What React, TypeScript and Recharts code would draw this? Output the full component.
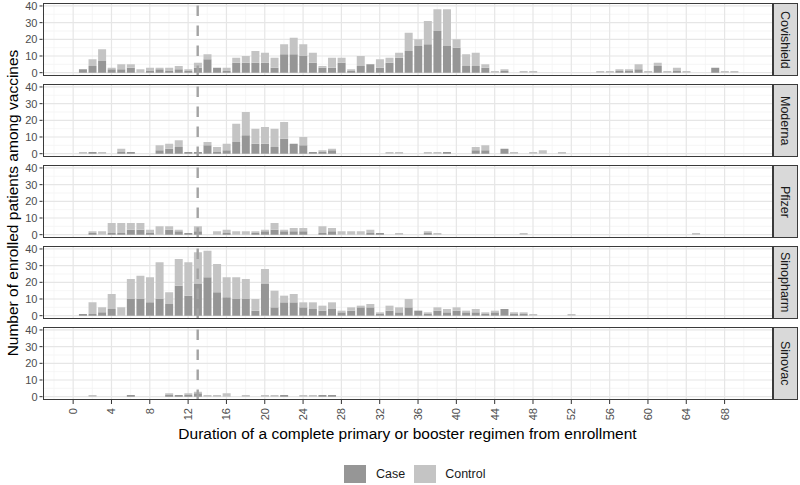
import React from "react"
import {
  BarChart,
  Bar,
  XAxis,
  YAxis,
  CartesianGrid,
  ReferenceLine,
} from "recharts"

// weekly counts, index = weeks since enrollment (0..69)
const covishieldCase = [
  0, 2, 4, 7, 2, 2, 3, 0, 1, 2,
  1, 2, 1, 3, 8, 3, 1, 6, 6, 6,
  6, 3, 11, 11, 10, 6, 3, 3, 6, 1,
  4, 5, 3, 6, 9, 13, 16, 17, 25, 16,
  15, 4, 4, 3, 0, 1, 0, 0, 0, 0,
  0, 0, 0, 0, 0, 0, 0, 1, 1, 2,
  0, 4, 0, 1, 0, 0, 0, 3, 0, 0,
]
const covishieldControl = [
  0, 0, 4, 7, 1, 3, 2, 2, 2, 1,
  2, 2, 1, 3, 3, 0, 2, 3, 4, 7,
  6, 6, 6, 10, 7, 6, 1, 6, 3, 1,
  6, 0, 5, 3, 3, 11, 4, 14, 13, 22,
  5, 7, 8, 2, 1, 1, 0, 1, 1, 0,
  0, 0, 0, 0, 0, 1, 1, 1, 1, 3,
  1, 2, 1, 2, 1, 0, 0, 0, 1, 1,
]

const modernaCase = [
  0, 0, 1, 0, 0, 1, 1, 0, 0, 2,
  3, 4, 1, 1, 5, 1, 2, 7, 11, 6,
  6, 4, 9, 6, 5, 1, 1, 2, 0, 0,
  0, 0, 0, 0, 0, 0, 0, 0, 0, 1,
  0, 0, 2, 2, 0, 3, 0, 0, 0, 0,
  0, 0, 0, 0, 0, 0, 0, 0, 0, 0,
  0, 0, 0, 0, 0, 0, 0, 0, 0, 0,
]
const modernaControl = [
  0, 1, 0, 1, 0, 2, 0, 0, 0, 3,
  3, 4, 0, 0, 2, 3, 4, 11, 14, 9,
  10, 11, 10, 0, 5, 0, 1, 1, 0, 0,
  0, 0, 0, 1, 1, 0, 0, 1, 1, 0,
  0, 0, 2, 3, 0, 0, 1, 0, 1, 2,
  0, 1, 0, 0, 0, 0, 0, 0, 0, 0,
  0, 0, 0, 0, 0, 0, 0, 0, 0, 0,
]

const pfizerCase = [
  0, 0, 1, 0, 1, 1, 3, 3, 1, 0,
  3, 2, 1, 2, 0, 0, 1, 0, 0, 1,
  2, 3, 2, 2, 2, 0, 1, 2, 0, 0,
  0, 1, 1, 0, 0, 0, 0, 1, 0, 0,
  0, 0, 0, 0, 0, 0, 0, 0, 0, 0,
  0, 0, 0, 0, 0, 0, 0, 0, 0, 0,
  0, 0, 0, 0, 0, 0, 0, 0, 0, 0,
]
const pfizerControl = [
  0, 0, 1, 2, 6, 6, 4, 4, 2, 5,
  2, 1, 0, 3, 0, 2, 2, 2, 2, 1,
  1, 4, 1, 2, 2, 0, 4, 2, 2, 2,
  2, 2, 0, 0, 1, 0, 0, 1, 1, 0,
  0, 0, 0, 0, 0, 0, 0, 1, 0, 0,
  0, 0, 0, 0, 0, 0, 0, 0, 0, 0,
  0, 0, 0, 0, 0, 1, 0, 0, 0, 0,
]

const sinopharmCase = [
  0, 1, 1, 2, 4, 0, 10, 10, 8, 10,
  7, 18, 12, 19, 23, 14, 11, 10, 10, 3,
  19, 5, 8, 8, 5, 4, 3, 4, 2, 3,
  5, 5, 1, 3, 2, 5, 3, 1, 3, 2,
  3, 2, 2, 1, 2, 4, 1, 1, 0, 0,
  0, 0, 0, 0, 0, 0, 0, 0, 0, 0,
  0, 0, 0, 0, 0, 0, 0, 0, 0, 0,
]
const sinopharmControl = [
  0, 0, 7, 3, 9, 5, 12, 14, 15, 22,
  7, 16, 20, 19, 16, 17, 12, 13, 12, 7,
  9, 10, 4, 5, 3, 4, 3, 4, 1, 2,
  1, 2, 1, 3, 3, 5, 0, 1, 2, 2,
  2, 1, 2, 1, 1, 0, 1, 1, 1, 0,
  0, 0, 1, 0, 0, 0, 0, 0, 0, 0,
  0, 0, 0, 0, 0, 0, 0, 0, 0, 0,
]

const sinovacCase = [
  0, 0, 0, 0, 0, 0, 1, 0, 0, 0,
  1, 1, 1, 2, 0, 0, 0, 0, 0, 0,
  0, 0, 1, 0, 0, 0, 1, 1, 0, 0,
  0, 0, 0, 0, 0, 0, 0, 0, 0, 0,
  0, 0, 0, 0, 0, 0, 0, 0, 0, 0,
  0, 0, 0, 0, 0, 0, 0, 0, 0, 0,
  0, 0, 0, 0, 0, 0, 0, 0, 0, 0,
]
const sinovacControl = [
  0, 0, 1, 0, 0, 0, 0, 0, 0, 0,
  1, 0, 1, 1, 1, 1, 2, 0, 1, 0,
  1, 1, 0, 0, 1, 1, 0, 0, 0, 0,
  0, 0, 0, 0, 0, 0, 0, 0, 0, 0,
  0, 0, 0, 0, 0, 0, 0, 0, 0, 0,
  0, 0, 0, 0, 0, 0, 0, 0, 0, 0,
  0, 0, 0, 0, 0, 0, 0, 0, 0, 0,
]

const vaccines = ["Covishield", "Moderna", "Pfizer", "Sinopharm", "Sinovac"]
const caseSeries = [covishieldCase, modernaCase, pfizerCase, sinopharmCase, sinovacCase]
const controlSeries = [covishieldControl, modernaControl, pfizerControl, sinopharmControl, sinovacControl]

const weekTicks = [0, 4, 8, 12, 16, 20, 24, 28, 32, 36, 40, 44, 48, 52, 56, 60, 64, 68]
const minorWeekLines = [-2, 2, 6, 10, 14, 18, 22, 26, 30, 34, 38, 42, 46, 50, 54, 58, 62, 66, 70]
const countTicks = [0, 10, 20, 30, 40]
const minorCountLines = [5, 15, 25, 35]
const cutoffWeek = 13

const COLORS = {
  case: "#969696",
  control: "#c4c4c4",
}

const FONT = '"Liberation Sans", Arial, sans-serif'
const PANEL_STEP = 81
const PLOT_LEFT = 42.5
const PLOT_RIGHT = 772.5
const PLOT_TOP = 3.3
const PLOT_H = 72.7

const RotatedTick = ({ x, y, payload }: any) => (
  <text
    x={x + 4}
    y={y + 2}
    transform={`rotate(-90 ${x + 4} ${y + 2})`}
    textAnchor="end"
    fontSize={11}
    fontFamily={FONT}
    fill="#4d4d4d"
  >
    {payload.value}
  </text>
)

function Panel({ index }: { index: number }) {
  const showAxis = index === vaccines.length - 1
  const h = showAxis ? 130 : PANEL_STEP
  const rows = caseSeries[index].map((c, i) => ({
    week: i,
    Case: c,
    Control: controlSeries[index][i],
  }))

  return (
    <div style={{ position: "absolute", left: 0, top: index * PANEL_STEP, width: 800, height: h }}>
      <BarChart
        width={800}
        height={h}
        data={rows}
        barSize={8}
        margin={{ top: PLOT_TOP, right: 800 - PLOT_RIGHT, bottom: showAxis ? 130 - PLOT_TOP - PLOT_H - 40 : PANEL_STEP - PLOT_TOP - PLOT_H, left: PLOT_LEFT - 30 }}
      >
        <CartesianGrid
          verticalValues={minorWeekLines}
          horizontalValues={minorCountLines}
          stroke="#f2f2f2"
          strokeWidth={0.7}
        />
        <CartesianGrid
          verticalValues={weekTicks}
          horizontalValues={countTicks}
          stroke="#e6e6e6"
          strokeWidth={1.2}
        />
        <XAxis
          dataKey="week"
          type="number"
          domain={[-3.2, 73]}
          allowDataOverflow
          ticks={weekTicks}
          interval={0}
          hide={!showAxis}
          height={40}
          axisLine={false}
          tickSize={4}
          tickMargin={2}
          tickLine={{ stroke: "#333333" }}
          tick={<RotatedTick />}
        />
        <YAxis
          type="number"
          domain={[-2, 41.6]}
          allowDataOverflow
          ticks={countTicks}
          interval={0}
          width={30}
          axisLine={false}
          tickSize={3}
          tickMargin={2}
          tickLine={{ stroke: "#333333" }}
          tick={{ fontSize: 11, fill: "#4d4d4d", fontFamily: FONT }}
        />
        <Bar dataKey="Case" stackId="a" fill={COLORS.case} isAnimationActive={false} />
        <Bar dataKey="Control" stackId="a" fill={COLORS.control} isAnimationActive={false} />
        <ReferenceLine
          x={cutoffWeek}
          stroke="#a3a3a3"
          strokeWidth={2.4}
          strokeDasharray="10.5 9.5"
        />
      </BarChart>
      <div
        style={{
          position: "absolute",
          left: PLOT_LEFT,
          top: PLOT_TOP,
          width: PLOT_RIGHT - PLOT_LEFT,
          height: PLOT_H,
          border: "1px solid #3a3a3a",
          boxSizing: "border-box",
          pointerEvents: "none",
        }}
      />
      <div
        style={{
          position: "absolute",
          left: PLOT_RIGHT,
          top: PLOT_TOP,
          width: 25,
          height: PLOT_H,
          background: "#d9d9d9",
          border: "1px solid #3a3a3a",
          boxSizing: "border-box",
          display: "flex",
          alignItems: "center",
          justifyContent: "center",
          writingMode: "vertical-rl",
          fontSize: 12.5,
          color: "#1a1a1a",
          fontFamily: FONT,
        }}
      >
        {vaccines[index]}
      </div>
    </div>
  )
}

export default function App() {
  return (
    <div
      style={{
        position: "absolute",
        left: 0,
        top: 0,
        width: 800,
        height: 485,
        background: "#ffffff",
        fontFamily: FONT,
        overflow: "hidden",
      }}
    >
      {vaccines.map((v, i) => (
        <Panel key={v} index={i} />
      ))}
      <div
        style={{
          position: "absolute",
          left: 13,
          top: 203,
          transform: "translate(-50%, -50%) rotate(-90deg)",
          whiteSpace: "nowrap",
          fontSize: 15.5,
          color: "#000",
        }}
      >
        Number of enrolled patients among vaccines
      </div>
      <div
        style={{
          position: "absolute",
          left: (PLOT_LEFT + PLOT_RIGHT) / 2,
          top: 434,
          transform: "translate(-50%, -50%)",
          whiteSpace: "nowrap",
          fontSize: 15.5,
          color: "#000",
        }}
      >
        Duration of a complete primary or booster regimen from enrollment
      </div>
      <div
        style={{
          position: "absolute",
          left: 344,
          top: 465,
          display: "flex",
          alignItems: "center",
          fontSize: 12.5,
          color: "#1a1a1a",
        }}
      >
        <div style={{ width: 22, height: 18, background: COLORS.case }} />
        <span style={{ marginLeft: 10, marginRight: 9 }}>Case</span>
        <div style={{ width: 22, height: 18, background: COLORS.control }} />
        <span style={{ marginLeft: 9 }}>Control</span>
      </div>
    </div>
  )
}
